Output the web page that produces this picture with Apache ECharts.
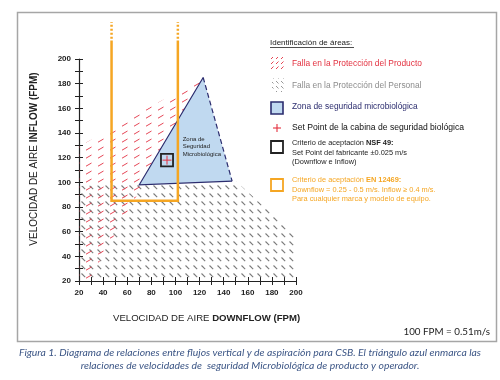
<!DOCTYPE html>
<html><head><meta charset="utf-8">
<script src="https://cdn.jsdelivr.net/npm/echarts@6/dist/echarts.min.js"></script>
<style>html,body{margin:0;padding:0;background:#fff}#c{width:500px;height:380px}</style>
</head><body><div id="c"></div>
<script>
// ---- data ----
const xRange = [20, 200];
const yRange = [20, 200];
const tickStep = 20;
const redZone = [[20,129],[123,185],[28,20],[20,20]];            // Falla protección del producto
const grayZone = [[20,97],[150,101],[200,57],[200,20],[20,20]];  // Falla protección del personal
const triangle = [[70,98],[123,185],[147,101]];                   // Zona de seguridad microbiológica
const setPoint = [93,118];
const nsfTol = 5;                                                  // ±0.025 m/s ≈ ±5 FPM
const enDownflow = [47,102];
const enInflowMin = 85;
const enTopSolid = 215;
const enTopDotted = 230;
const zoneLabel = ['Zona de','Seguridad','Microbiológica'];
const zoneLabelPos = [106,138];

const FONT = '"Liberation Sans", Arial, sans-serif';
const CAPFONT = 'Lato, "Liberation Sans", sans-serif';
const RED = '#e3303f', GRAY = '#8c8c8c', NAVY = '#2b2c6e', ORANGE = '#f5a623', BLUE = '#c0d9f0';

function makeTile(w,h,segs,color,lw){
  const c=document.createElement('canvas'); c.width=w; c.height=h;
  const g=c.getContext('2d'); g.strokeStyle=color; g.lineWidth=lw; g.lineCap='butt';
  segs.forEach(s=>{g.beginPath();g.moveTo(s[0],s[1]);g.lineTo(s[2],s[3]);g.stroke();});
  return c;
}
const redTile = makeTile(12,8,[[2,6.2,7.5,3]],'#e54656',1);
const grayTile = makeTile(8,8,[[1.5,1.5,5.2,5.2]],'#7a7a7a',1.1);
const redIconTile = makeTile(5,5,[[1,4,3.5,1.5]],RED,0.9);
const grayIconTile = makeTile(5,5,[[1,1,3.5,3.5]],GRAY,0.9);

function poly(pts, style, z, closed){
  return {type:'custom', coordinateSystem:'cartesian2d', z:z, silent:true, clip:false,
    data:[[pts[0][0],pts[0][1]]],
    renderItem:(p,api)=>({type: closed?'polygon':'polyline', shape:{points:pts.map(q=>api.coord(q))}, style:style})};
}

const chart = echarts.init(document.getElementById('c'), null, {renderer:'canvas'});
function yAx(inside){
  return {type:'value', min:yRange[0], max:yRange[1], interval:tickStep, position:'left',
    axisLine:{show:!inside, lineStyle:{color:'#222', width:1.2}},
    axisTick:{show:true, inside:inside, length:4, lineStyle:{color:'#222', width:1}},
    minorTick:{show:true, splitNumber:2, length:4, lineStyle:{color:'#222', width:1}},
    splitLine:{show:false}, minorSplitLine:{show:false},
    axisLabel:{show:!inside, fontSize:8, fontWeight:'bold', color:'#222', margin:8, fontFamily:FONT}};
}
function xAx(inside){
  return {type:'value', min:xRange[0], max:xRange[1], interval:tickStep, position:'bottom',
    axisLine:{show:!inside, lineStyle:{color:'#222', width:1.2}},
    axisTick:{show:true, inside:inside, length:4, lineStyle:{color:'#222', width:1}},
    minorTick:{show:true, splitNumber:2, length:4, lineStyle:{color:'#222', width:1}},
    splitLine:{show:false}, minorSplitLine:{show:false},
    axisLabel:{show:!inside, fontSize:8, fontWeight:'bold', color:'#222', margin:8, fontFamily:FONT}};
}

const legendX = 270, textX = 292, SM = 7.4;
const graphic = [
  {type:'rect', shape:{x:17.5,y:12.5,width:479,height:329}, style:{fill:'none', stroke:'#a6a6a6', lineWidth:1.5}, z:0},
  {type:'text', x:34, y:159, rotation:Math.PI/2, style:{text:'{a|VELOCIDAD DE AIRE }{b|INFLOW (FPM)}', align:'center', verticalAlign:'middle',
    rich:{a:{fontSize:10, fontFamily:FONT, fill:'#222'}, b:{fontSize:10, fontFamily:FONT, fill:'#222', fontWeight:'bold'}}}},
  {type:'text', x:113, y:318, style:{text:'{a|VELOCIDAD DE AIRE }{b|DOWNFLOW (FPM)}', align:'left', verticalAlign:'middle',
    rich:{a:{fontSize:9.6, fontFamily:FONT, fill:'#222'}, b:{fontSize:9.6, fontFamily:FONT, fill:'#222', fontWeight:'bold'}}}},
  {type:'text', x:490, y:332, style:{text:'100 FPM = 0.51m/s', align:'right', verticalAlign:'middle', fontSize:9.8, fontFamily:CAPFONT, fill:'#222'}},
  {type:'text', x:250, y:353, style:{text:'Figura 1. Diagrama de relaciones entre flujos vertical y de aspiración para CSB. El triángulo azul enmarca las', align:'center', verticalAlign:'middle', fontSize:10.4, fontStyle:'italic', fontFamily:CAPFONT, fill:'#3b5585'}},
  {type:'text', x:250, y:366, style:{text:'relaciones de velocidades de  seguridad Microbiológica de producto y operador.', align:'center', verticalAlign:'middle', fontSize:10.4, fontStyle:'italic', fontFamily:CAPFONT, fill:'#3b5585'}},
  // legend
  {type:'text', x:legendX, y:43, style:{text:'Identificación de áreas:', verticalAlign:'middle', fontSize:8, fontFamily:FONT, fill:'#222'}},
  {type:'line', shape:{x1:legendX, y1:47.5, x2:354, y2:47.5}, style:{stroke:'#222', lineWidth:0.8}},
  {type:'rect', shape:{x:270, y:57, width:14, height:14}, style:{fill:{image:redIconTile, repeat:'repeat'}}},
  {type:'text', x:textX, y:64, style:{text:'Falla en la Protección del Producto', verticalAlign:'middle', fontSize:8.4, fontFamily:FONT, fill:RED}},
  {type:'rect', shape:{x:272, y:78, width:12, height:14}, style:{fill:{image:grayIconTile, repeat:'repeat'}}},
  {type:'text', x:textX, y:86, style:{text:'Falla en la Protección del Personal', verticalAlign:'middle', fontSize:8.4, fontFamily:FONT, fill:GRAY}},
  {type:'rect', shape:{x:271, y:102, width:12, height:12}, style:{fill:BLUE, stroke:NAVY, lineWidth:1.6}},
  {type:'text', x:textX, y:107, style:{text:'Zona de seguridad microbiológica', verticalAlign:'middle', fontSize:8.4, fontFamily:FONT, fill:NAVY}},
  {type:'line', shape:{x1:273, y1:128, x2:281, y2:128}, style:{stroke:RED, lineWidth:1.1}},
  {type:'line', shape:{x1:277, y1:124, x2:277, y2:132}, style:{stroke:RED, lineWidth:1.1}},
  {type:'text', x:textX, y:128, style:{text:'Set Point de la cabina de seguridad biológica', verticalAlign:'middle', fontSize:8.6, fontFamily:FONT, fill:'#111'}},
  {type:'rect', shape:{x:271, y:141, width:12, height:12}, style:{fill:'none', stroke:'#222', lineWidth:1.8}},
  {type:'text', x:textX, y:143, style:{text:'Criterio de aceptación {b|NSF 49:}', verticalAlign:'middle', fontSize:SM, fontFamily:FONT, fill:'#222', rich:{b:{fontSize:SM, fontFamily:FONT, fontWeight:'bold', fill:'#222'}}}},
  {type:'text', x:textX, y:152.5, style:{text:'Set Point del fabricante ±0.025 m/s', verticalAlign:'middle', fontSize:SM, fontFamily:FONT, fill:'#222'}},
  {type:'text', x:textX, y:162, style:{text:'(Downflow e Inflow)', verticalAlign:'middle', fontSize:SM, fontFamily:FONT, fill:'#222'}},
  {type:'rect', shape:{x:271, y:179, width:12, height:12}, style:{fill:'none', stroke:ORANGE, lineWidth:1.8}},
  {type:'text', x:textX, y:180, style:{text:'Criterio de aceptación {b|EN 12469:}', verticalAlign:'middle', fontSize:SM, fontFamily:FONT, fill:ORANGE, rich:{b:{fontSize:SM, fontFamily:FONT, fontWeight:'bold', fill:ORANGE}}}},
  {type:'text', x:textX, y:189.5, style:{text:'Downflow = 0.25 - 0.5 m/s. Inflow ≥ 0.4 m/s.', verticalAlign:'middle', fontSize:SM, fontFamily:FONT, fill:ORANGE}},
  {type:'text', x:textX, y:199, style:{text:'Para cualquier marca y modelo de equipo.', verticalAlign:'middle', fontSize:SM, fontFamily:FONT, fill:ORANGE}}
];

const series = [
  poly(grayZone, {fill:{image:grayTile, repeat:'repeat'}}, 1, true),
  poly(redZone, {fill:{image:redTile, repeat:'repeat'}}, 2, true),
  poly(triangle, {fill:BLUE}, 3, true),
  poly([triangle[2],triangle[0],triangle[1]], {fill:'none', stroke:NAVY, lineWidth:1.2}, 4, false),
  poly([triangle[1],triangle[2]], {fill:'none', stroke:NAVY, lineWidth:1.2, lineDash:[5,3]}, 4, false),
  poly([[enDownflow[0],enTopSolid],[enDownflow[0],enInflowMin],[enDownflow[1],enInflowMin],[enDownflow[1],enTopSolid]], {fill:'none', stroke:ORANGE, lineWidth:2.5}, 5, false),
  poly([[enDownflow[0],enTopSolid+1.5],[enDownflow[0],enTopDotted]], {fill:'none', stroke:ORANGE, lineWidth:2.5, lineDash:[2,2]}, 5, false),
  poly([[enDownflow[1],enTopSolid+1.5],[enDownflow[1],enTopDotted]], {fill:'none', stroke:ORANGE, lineWidth:2.5, lineDash:[2,2]}, 5, false),
  poly([[setPoint[0]-nsfTol,setPoint[1]-nsfTol],[setPoint[0]+nsfTol,setPoint[1]-nsfTol],[setPoint[0]+nsfTol,setPoint[1]+nsfTol],[setPoint[0]-nsfTol,setPoint[1]+nsfTol]], {fill:'none', stroke:'#222', lineWidth:1.8}, 6, true),
  {type:'custom', coordinateSystem:'cartesian2d', z:7, silent:true, data:[setPoint],
    renderItem:(p,api)=>{const c=api.coord([api.value(0),api.value(1)]);
      return {type:'group', children:[
        {type:'line', shape:{x1:c[0]-4.5,y1:c[1],x2:c[0]+4.5,y2:c[1]}, style:{stroke:RED, lineWidth:1}},
        {type:'line', shape:{x1:c[0],y1:c[1]-4.5,x2:c[0],y2:c[1]+4.5}, style:{stroke:RED, lineWidth:1}}]};}},
  {type:'custom', coordinateSystem:'cartesian2d', z:7, silent:true, data:[zoneLabelPos],
    renderItem:(p,api)=>{const c=api.coord([api.value(0),api.value(1)]);
      return {type:'text', x:c[0], y:c[1], style:{text:zoneLabel.join('\n'), fontSize:6, lineHeight:7.5, fontFamily:FONT, fill:'#222', verticalAlign:'top'}};}}
];

chart.setOption({
  animation:false,
  grid:{left:79, top:59, width:217, height:222, containLabel:false},
  xAxis:[xAx(false), xAx(true)],
  yAxis:[yAx(false), yAx(true)],
  graphic:graphic,
  series:series
});
</script></body></html>
